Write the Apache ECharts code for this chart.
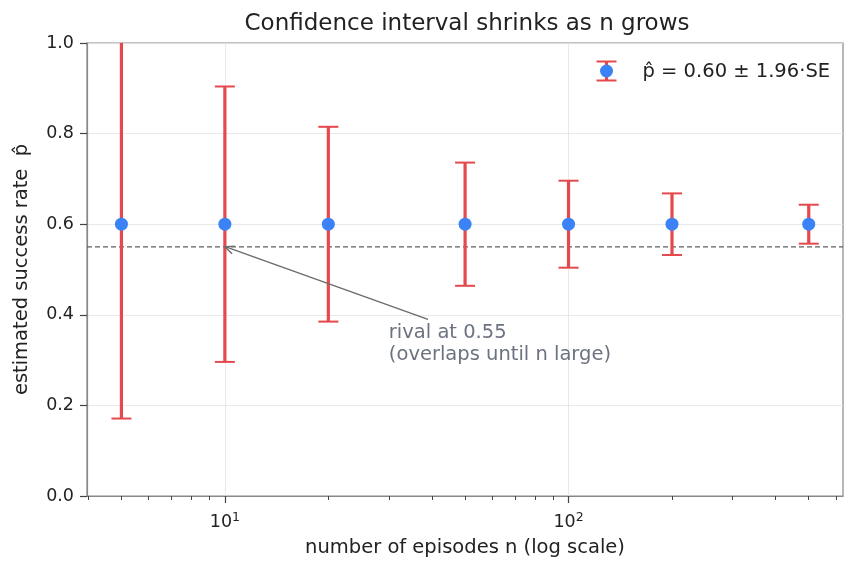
<!DOCTYPE html>
<html>
<head>
<meta charset="utf-8">
<script src="https://cdn.jsdelivr.net/npm/echarts@6/dist/echarts.min.js"></script>
<style>
  html, body { margin: 0; padding: 0; background: #fff; }
  #main { width: 859px; height: 572px; }
</style>
</head>
<body>
<div id="main"></div>
<script>
// episode counts and the interval
var episodes = [5, 10, 20, 50, 100, 200, 500];
var pHat = [0.6, 0.6, 0.6, 0.6, 0.6, 0.6, 0.6];
var lower = [0.171, 0.296, 0.385, 0.464, 0.504, 0.532, 0.557];
var upper = [1.029, 0.904, 0.815, 0.736, 0.696, 0.668, 0.643];
var rival = 0.55;
var majorTicks = [10, 100];
var minorTicks = [4, 5, 6, 7, 8, 9, 20, 30, 40, 50, 60, 70, 80, 90, 200, 300, 400, 500, 600];

var red = '#e5484d';
var blue = '#3b82f6';
var font = 'DejaVu Sans';

var myChart = echarts.init(document.getElementById('main'));

var barData = episodes.map(function (n, i) {
    return [n, lower[i], upper[i]];
});
var pointData = episodes.map(function (n, i) {
    return [n, pHat[i]];
});

option = {
    backgroundColor: '#fff',
    animation: false,
    textStyle: { fontFamily: font },
    title: {
        text: 'Confidence interval shrinks as n grows',
        left: 462,
        textAlign: 'center',
        top: 8,
        textStyle: { fontFamily: font, fontSize: 23, fontWeight: 'normal', color: '#222' }
    },
    grid: {
        left: 87, right: 16, top: 43, bottom: 76,
        show: true, borderColor: '#888', borderWidth: 1.2
    },
    xAxis: [{
        type: 'log',
        logBase: 10,
        min: 3.97,
        max: 629,
        position: 'bottom',
        name: 'number of episodes n (log scale)',
        nameLocation: 'middle',
        nameGap: 42,
        nameTextStyle: { fontFamily: font, fontSize: 19.5, color: '#222' },
        axisLine: { lineStyle: { color: '#888', width: 1.2 } },
        axisTick: { show: true, length: 7, customValues: majorTicks, lineStyle: { color: '#444', width: 1.2 } },
        axisLabel: {
            customValues: majorTicks,
            margin: 15,
            color: '#222',
            fontSize: 17.5,
            formatter: function (v) {
                return '10{sup|' + Math.round(Math.log10(v)) + '}';
            },
            rich: {
                sup: { fontSize: 12.5, verticalAlign: 'top', padding: [0, 0, 10, 0], color: '#222' }
            }
        },
        splitLine: { show: true, lineStyle: { color: '#e3e3e3', width: 0.8 } }
    }, {
        type: 'log',
        logBase: 10,
        min: 3.97,
        max: 629,
        position: 'bottom',
        axisLine: { show: false },
        axisTick: { show: true, length: 4, customValues: minorTicks, lineStyle: { color: '#444', width: 1 } },
        axisLabel: { show: false },
        splitLine: { show: false }
    }],
    yAxis: {
        type: 'value',
        min: 0,
        max: 1,
        interval: 0.2,
        name: 'estimated success rate  p\u0302',
        nameLocation: 'middle',
        nameGap: 55,
        nameTextStyle: { fontFamily: font, fontSize: 19.5, color: '#222' },
        axisLine: { show: true, lineStyle: { color: '#888', width: 1.2 } },
        axisTick: { show: true, length: 7, lineStyle: { color: '#444', width: 1.2 } },
        axisLabel: {
            color: '#222', fontSize: 17.5, margin: 13,
            formatter: function (v) { return v.toFixed(1); }
        },
        splitLine: { show: true, lineStyle: { color: '#e3e3e3', width: 0.8 } }
    },
    series: [
        {
            name: 'rival',
            type: 'line',
            data: [[3.97, rival], [629, rival]],
            symbol: 'none',
            silent: true,
            lineStyle: { color: '#5f5f5f', width: 1.4, type: [5, 3] },
            z: 2
        },
        {
            name: 'errorbars',
            type: 'custom',
            data: barData,
            clip: true,
            renderItem: function (params, api) {
                var x = api.value(0);
                var lo = api.coord([x, api.value(1)]);
                var hi = api.coord([x, api.value(2)]);
                var cap = 10;
                return {
                    type: 'group',
                    children: [
                        { type: 'line', shape: { x1: lo[0], y1: lo[1], x2: hi[0], y2: hi[1] },
                          style: { stroke: red, lineWidth: 3.2 } },
                        { type: 'line', shape: { x1: lo[0] - cap, y1: lo[1], x2: lo[0] + cap, y2: lo[1] },
                          style: { stroke: red, lineWidth: 2 } },
                        { type: 'line', shape: { x1: hi[0] - cap, y1: hi[1], x2: hi[0] + cap, y2: hi[1] },
                          style: { stroke: red, lineWidth: 2 } }
                    ]
                };
            },
            z: 3
        },
        {
            name: 'p\u0302 = 0.60 \u00b1 1.96\u00b7SE',
            type: 'scatter',
            data: pointData,
            symbol: 'circle',
            symbolSize: 13,
            itemStyle: { color: blue, opacity: 1 },
            z: 4
        },
        {
            name: 'annotation',
            type: 'custom',
            data: [[10, rival, 39, 0.39, 30, 0.30]],
            clip: false,
            renderItem: function (params, api) {
                var tip = api.coord([api.value(0), api.value(1)]);
                var tail = api.coord([api.value(2), api.value(3)]);
                var txt = api.coord([api.value(4), api.value(5)]);
                var ang = Math.atan2(tail[1] - tip[1], tail[0] - tip[0]);
                var len = 10, spread = 0.42;
                var p1 = [tip[0] + len * Math.cos(ang + spread), tip[1] + len * Math.sin(ang + spread)];
                var p2 = [tip[0] + len * Math.cos(ang - spread), tip[1] + len * Math.sin(ang - spread)];
                return {
                    type: 'group',
                    children: [
                        { type: 'line', shape: { x1: tail[0], y1: tail[1], x2: tip[0] + 1, y2: tip[1] },
                          style: { stroke: '#6b6b6b', lineWidth: 1.4 } },
                        { type: 'polyline', shape: { points: [p1, tip, p2] },
                          style: { stroke: '#6b6b6b', lineWidth: 1.4, fill: null } },
                        { type: 'text', x: txt[0], y: txt[1] + 6,
                          style: { text: 'rival at 0.55\n(overlaps until n large)', fill: '#6b7280',
                                   font: '19.5px "DejaVu Sans"', lineHeight: 22,
                                   textAlign: 'left', textVerticalAlign: 'bottom' } }
                    ]
                };
            },
            z: 5
        }
    ],
    graphic: [{
        type: 'group',
        left: 594,
        top: 59,
        children: [
            { type: 'line', shape: { x1: 10, y1: 1, x2: 10, y2: 20 }, style: { stroke: red, lineWidth: 3.2 } },
            { type: 'line', shape: { x1: 0, y1: 1, x2: 20, y2: 1 }, style: { stroke: red, lineWidth: 2 } },
            { type: 'line', shape: { x1: 0, y1: 20, x2: 20, y2: 20 }, style: { stroke: red, lineWidth: 2 } },
            { type: 'circle', shape: { cx: 10, cy: 10.5, r: 6.5 }, style: { fill: blue } },
            { type: 'text', x: 46, y: 11,
              style: { text: 'p\u0302 = 0.60 \u00b1 1.96\u00b7SE', fill: '#222',
                       font: '19.5px "DejaVu Sans"', textVerticalAlign: 'middle' } }
        ]
    }]
};
myChart.setOption(option);
</script>
</body>
</html>
